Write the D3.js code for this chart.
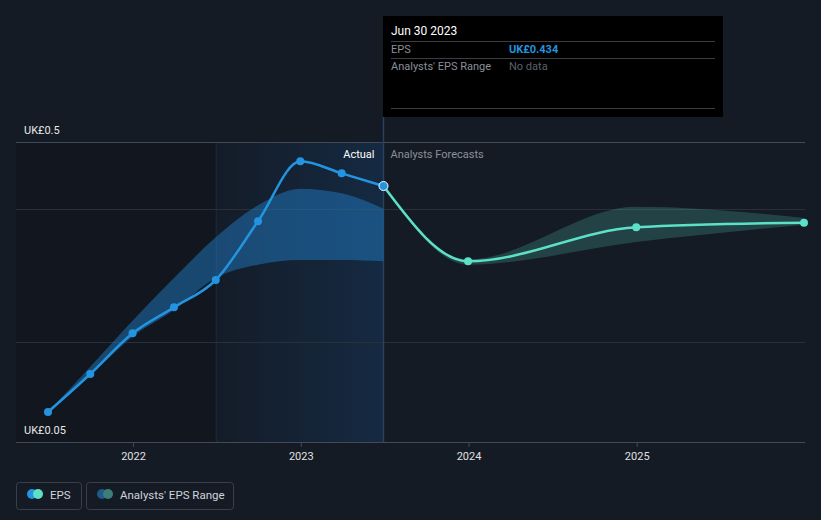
<!DOCTYPE html>
<html><head><meta charset="utf-8">
<script src="https://cdn.jsdelivr.net/npm/d3@7/dist/d3.min.js"></script>
<style>
html,body{margin:0;padding:0;background:#151b25;}
svg{display:block;font-family:Roboto,"Noto Sans",sans-serif;}
</style></head><body>
<svg id="c" width="821" height="520"></svg>
<script>
// ---- data ----
const actualDates = ["2021-06-30","2021-09-30","2021-12-31","2022-03-31","2022-06-30","2022-09-30","2022-12-31","2023-03-31","2023-06-30"];
const actualEPS   = [0.095, 0.152, 0.213, 0.252, 0.293, 0.381, 0.471, 0.453, 0.434];
const pastRangeLow  = [0.095, 0.150, 0.208, 0.248, 0.296, 0.316, 0.323, 0.323, 0.321];
const pastRangeHigh = [0.095, 0.163, 0.232, 0.296, 0.357, 0.405, 0.430, 0.423, 0.400];
const forecastDates = ["2023-06-30","2023-12-31","2024-12-31","2025-12-31"];
const forecastEPS   = [0.434, 0.321, 0.372, 0.379];
const forecastLow   = [0.434, 0.316, 0.350, 0.376];
const forecastHigh  = [0.434, 0.324, 0.403, 0.386];
const yTickValues = [0.5, 0.4, 0.2];
const yLabels = ["UK£0.5", "UK£0.05"];
const xTickYears = ["2022","2023","2024","2025"];

(function(){
const parse = d3.timeParse("%Y-%m-%d");
const svg = d3.select("#c");

const x = d3.scaleTime().domain([parse("2021-06-30"), parse("2025-12-31")]).range([48, 804]);
const y = d3.scaleLinear().domain([0.05, 0.5]).range([442, 142]);

const pLeft = 16, pRight = 805, pTop = 142, pBottom = 442;
const hlStart = x(parse("2022-06-30")), now = x(parse("2023-06-30"));

const defs = svg.append("defs");
const g1 = defs.append("linearGradient").attr("id","hl").attr("x1","0").attr("x2","1").attr("y1","0").attr("y2","0");
g1.append("stop").attr("offset","0").attr("stop-color","#141c28");
g1.append("stop").attr("offset","1").attr("stop-color","#152a42");

svg.append("rect").attr("x",pLeft).attr("y",pTop).attr("width",hlStart-pLeft).attr("height",pBottom-pTop).attr("fill","#12171f");
svg.append("rect").attr("x",hlStart).attr("y",pTop).attr("width",now-hlStart).attr("height",pBottom-pTop).attr("fill","url(#hl)");
svg.append("line").attr("x1",hlStart+0.5).attr("x2",hlStart+0.5).attr("y1",pTop).attr("y2",pBottom).attr("stroke","#1a2a3c").attr("stroke-width",1);

svg.append("g").selectAll("line").data(yTickValues).join("line")
  .attr("x1",pLeft).attr("x2",pRight).attr("y1",d=>Math.round(y(d))+0.5).attr("y2",d=>Math.round(y(d))+0.5)
  .attr("stroke",(d,i)=> i===0 ? "#444a55" : "#2a303a").attr("stroke-width",1);

svg.append("line").attr("x1",now).attr("x2",now).attr("y1",117).attr("y2",pBottom)
  .attr("stroke","#27425e").attr("stroke-width",1.5);

const xAxis = d3.axisBottom(x).tickValues(xTickYears.map(s=>parse(s+"-01-01"))).tickFormat(d3.timeFormat("%Y")).tickSize(5).tickPadding(5);
const ax = svg.append("g").attr("transform",`translate(0,${pBottom})`).call(xAxis);
ax.select(".domain").remove();
ax.selectAll(".tick line").attr("stroke","#444a55");
ax.selectAll(".tick text").attr("fill","#e0e0e0").attr("font-size",11).attr("font-family","Roboto,sans-serif");
svg.append("line").attr("x1",pLeft).attr("x2",pRight).attr("y1",pBottom+0.5).attr("y2",pBottom+0.5).attr("stroke","#444a55");

svg.append("text").attr("x",24).attr("y",134).attr("fill","#e8e8e8").attr("font-size",11).text(yLabels[0]);
svg.append("text").attr("x",24).attr("y",434).attr("fill","#e8e8e8").attr("font-size",11).text(yLabels[1]);

const curve = d3.curveMonotoneX;
const past = actualDates.map((d,i)=>({t:parse(d), v:actualEPS[i], lo:pastRangeLow[i], hi:pastRangeHigh[i]}));
const fc = forecastDates.map((d,i)=>({t:parse(d), v:forecastEPS[i], lo:forecastLow[i], hi:forecastHigh[i]}));

const area = d3.area().x(d=>x(d.t)).y0(d=>y(d.lo)).y1(d=>y(d.hi)).curve(curve);
svg.append("path").datum(past).attr("d",area).attr("fill","#2183d0").attr("fill-opacity",0.45);
svg.append("path").datum(fc).attr("d",area).attr("fill","#5de0c8").attr("fill-opacity",0.2);

const line = d3.line().x(d=>x(d.t)).y(d=>y(d.v)).curve(curve);
svg.append("path").datum(past).attr("d",line).attr("fill","none").attr("stroke","#2394df").attr("stroke-width",2.5);
svg.append("path").datum(fc).attr("d",line).attr("fill","none").attr("stroke","#5de0c8").attr("stroke-width",2.5);

svg.append("g").selectAll("circle").data(past.slice(0,-1)).join("circle")
  .attr("cx",d=>x(d.t)).attr("cy",d=>y(d.v)).attr("r",4).attr("fill","#2394df");
svg.append("g").selectAll("circle").data(fc.slice(1)).join("circle")
  .attr("cx",d=>x(d.t)).attr("cy",d=>y(d.v)).attr("r",4).attr("fill","#5de0c8");
svg.append("circle").attr("cx",x(past[past.length-1].t)).attr("cy",y(past[past.length-1].v)).attr("r",4.5)
  .attr("fill","#2394df").attr("stroke","#ffffff").attr("stroke-width",1);

svg.append("text").attr("x",now-9).attr("y",158).attr("text-anchor","end").attr("fill","#ffffff").attr("font-size",11).text("Actual");
svg.append("text").attr("x",now+7).attr("y",158).attr("fill","#8a8f98").attr("font-size",11).text("Analysts Forecasts");

const tt = svg.append("g");
tt.append("rect").attr("x",383).attr("y",16).attr("width",340).attr("height",101).attr("fill","#000000");
tt.append("text").attr("x",391).attr("y",35).attr("fill","#ffffff").attr("font-size",12).text("Jun 30 2023");
[41.5,58.5,108.5].forEach(v=>tt.append("line").attr("x1",391).attr("x2",715).attr("y1",v).attr("y2",v).attr("stroke","#3a3d42"));
tt.append("text").attr("x",391).attr("y",53).attr("fill","#8a8f98").attr("font-size",11).text("EPS");
tt.append("text").attr("x",509).attr("y",53).attr("fill","#2394df").attr("font-size",11).attr("font-weight","bold").text("UK£" + actualEPS[actualEPS.length-1].toFixed(3));
tt.append("text").attr("x",391).attr("y",70).attr("fill","#8a8f98").attr("font-size",11).text("Analysts' EPS Range");
tt.append("text").attr("x",509).attr("y",70).attr("fill","#5d6168").attr("font-size",11).text("No data");

const lg = svg.append("g");
lg.append("rect").attr("x",16.5).attr("y",482.5).attr("width",65).attr("height",27).attr("rx",3).attr("fill","none").attr("stroke","#3a3f4a");
lg.append("rect").attr("x",86.5).attr("y",482.5).attr("width",147).attr("height",27).attr("rx",3).attr("fill","none").attr("stroke","#3a3f4a");
lg.append("circle").attr("cx",32).attr("cy",494).attr("r",5).attr("fill","#2394df");
lg.append("circle").attr("cx",38).attr("cy",494).attr("r",5).attr("fill","#5de0c8");
lg.append("circle").attr("cx",102).attr("cy",494).attr("r",5).attr("fill","#1f5a8a");
lg.append("circle").attr("cx",108).attr("cy",494).attr("r",5).attr("fill","#3d7f78");
lg.append("text").attr("x",50).attr("y",498.5).attr("fill","#d0d3d8").attr("font-size",11.5).text("EPS");
lg.append("text").attr("x",120).attr("y",498.5).attr("fill","#d0d3d8").attr("font-size",11.5).text("Analysts' EPS Range");
})();
</script>
</body></html>
